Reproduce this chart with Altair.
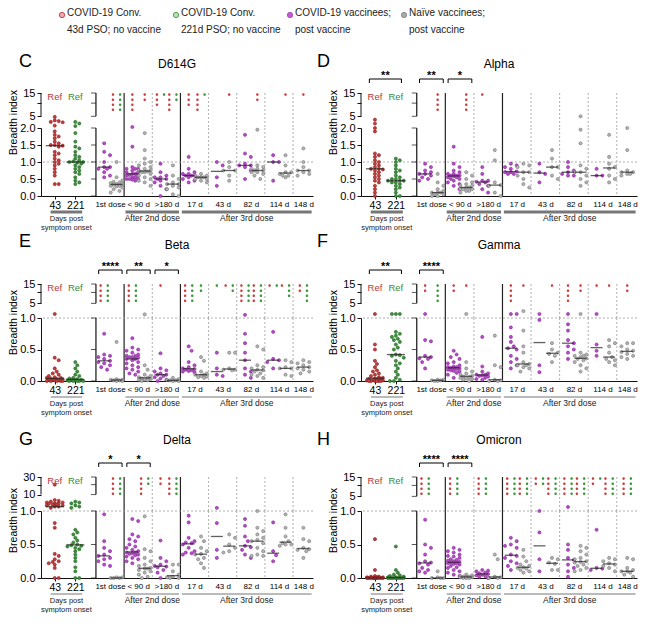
import math
import altair as alt
import pandas as pd

# ---------------- text ----------------
SECTIONS = ["1st dose", "< 90 d", ">180 d", "17 d", "43 d", "82 d", "114 d", "148 d"]
REF_TICKS = ["43", "221"]
LEGEND = ["COVID-19 Conv.\n43d PSO; no vaccine", "COVID-19 Conv.\n221d PSO; no vaccine",
          "COVID-19 vaccinees;\npost vaccine", "Naïve vaccinees;\npost vaccine"]

# ---------------- data (breadth index per column) ----------------
# r43 / r221: convalescent 43 d / 221 d PSO; P<i>: COVID-19 vaccinees, G<i>: naive vaccinees (i = SECTIONS index)
D614G = {
    "r43": [4.8, 3.8, 3.6, 3.4, 3.3, 2.5, 1.9, 1.8, 1.75, 1.7, 1.6, 1.55, 1.5, 1.5, 1.48, 1.45, 1.3, 1.25, 1.2, 1.1, 1.05, 1.0, 0.95, 0.9, 0.8, 0.7, 0.6, 0.35, 0.35],
    "r221": [3.4, 3.0, 2.4, 1.85, 1.6, 1.45, 1.4, 1.3, 1.2, 1.15, 1.1, 1.05, 1.02, 1.0, 1.0, 0.98, 0.95, 0.9, 0.85, 0.8, 0.75, 0.7, 0.65, 0.55, 0.45, 0.4, 0.35],
    "P0": [1.55, 1.3, 1.2, 1.0, 0.85, 0.85, 0.8, 0.8, 0.7, 0.6, 0.55],
    "G0": [1.0, 0.55, 0.45, 0.42, 0.4, 0.38, 0.35, 0.35, 0.33, 0.3, 0.3, 0.28, 0.25, 0.2, 0.15, 0.1],
    "P1": [2.2, 1.45, 0.85, 0.8, 0.8, 0.8, 0.75, 0.7, 0.7, 0.65, 0.62, 0.6, 0.6, 0.55, 0.55, 0.5, 0.5, 0.5, 0.48, 0.45, 0.65],
    "G1": [1.85, 1.35, 1.1, 1.0, 0.95, 0.9, 0.85, 0.8, 0.75, 0.75, 0.72, 0.7, 0.7, 0.65, 0.6, 0.55, 0.5, 0.45, 0.4, 0.3],
    "P2": [0.95, 0.7, 0.6, 0.55, 0.55, 0.5, 0.5, 0.45, 0.4, 0.3, 0.2, 0.0],
    "G2": [0.9, 0.6, 0.5, 0.4, 0.35, 0.35, 0.3, 0.25, 0.2, 0.05, 0.0],
    "P3": [1.15, 0.8, 0.7, 0.65, 0.65, 0.6, 0.6, 0.6, 0.55, 0.5, 0.45, 0.4],
    "G3": [0.65, 0.6, 0.6, 0.55, 0.55, 0.55, 0.5, 0.5, 0.45, 0.4],
    "P4": [1.0, 0.9, 0.55, 0.3],
    "G4": [1.0, 0.85, 0.75, 0.75, 0.6, 0.45],
    "P5": [1.8, 1.25, 1.15, 0.95, 0.9, 0.9, 0.85, 0.75, 0.5],
    "G5": [1.95, 0.9, 0.85, 0.8, 0.8, 0.75, 0.75, 0.7, 0.7, 0.65, 0.6, 0.5],
    "P6": [1.2, 1.0, 1.0, 0.45],
    "G6": [1.2, 0.9, 0.7, 0.7, 0.65, 0.6, 0.6, 0.55],
    "G7": [1.4, 1.0, 0.85, 0.75, 0.75, 0.7, 0.65, 0.6],
}
D614G_SIG = {"G0": (4, 4), "P1": (4, 0), "G1": (2, 0), "P2": (3, 1), "G2": (4, 2), "P3": (3, 0),
             "G3": (4, 1), "G4": (1, 0), "G5": (2, 0), "G6": (1, 0), "G7": (1, 0)}
D614G_BR = []

ALPHA = {
    "r43": [4.0, 3.0, 2.0, 1.9, 1.25, 1.2, 1.15, 1.05, 1.0, 0.95, 0.9, 0.85, 0.8, 0.8, 0.78, 0.75, 0.7, 0.65, 0.6, 0.55, 0.5, 0.45, 0.4, 0.3, 0.2, 0.1, 0.0],
    "r221": [1.1, 1.05, 1.0, 0.9, 0.8, 0.75, 0.7, 0.6, 0.55, 0.5, 0.5, 0.45, 0.45, 0.45, 0.4, 0.4, 0.35, 0.3, 0.25, 0.2, 0.1, 0.0, 0.0],
    "P0": [0.95, 0.85, 0.75, 0.7, 0.65, 0.65, 0.6, 0.55, 0.5, 0.45],
    "G0": [0.65, 0.4, 0.3, 0.2, 0.15, 0.1, 0.1, 0.1, 0.05, 0.05, 0.0, 0.0],
    "P1": [1.45, 0.95, 0.85, 0.75, 0.7, 0.65, 0.65, 0.6, 0.6, 0.6, 0.58, 0.55, 0.55, 0.5, 0.5, 0.45, 0.4, 0.35, 0.3, 0.2],
    "G1": [0.7, 0.6, 0.5, 0.4, 0.35, 0.3, 0.3, 0.25, 0.25, 0.2, 0.2, 0.2, 0.15, 0.15, 0.1],
    "P2": [0.85, 0.65, 0.45, 0.45, 0.42, 0.4, 0.35, 0.3, 0.2, 0.1],
    "G2": [1.35, 1.05, 0.4, 0.32, 0.3, 0.1, 0.0],
    "P3": [0.95, 0.9, 0.85, 0.8, 0.72, 0.7, 0.7, 0.65, 0.65],
    "G3": [0.95, 0.9, 0.85, 0.7, 0.7, 0.6, 0.5, 0.35, 0.25],
    "P4": [0.95, 0.7, 0.65, 0.4],
    "G4": [1.35, 1.1, 0.85, 0.85, 0.6, 0.5],
    "P5": [1.0, 0.85, 0.75, 0.7, 0.65, 0.6, 0.6],
    "G5": [5.0, 1.95, 1.55, 0.9, 0.8, 0.7, 0.7, 0.6, 0.5, 0.4, 0.3],
    "P6": [0.8, 0.6, 0.6],
    "G6": [1.8, 1.15, 0.95, 0.85, 0.8, 0.6, 0.5, 0.4],
    "G7": [2.0, 1.35, 0.75, 0.7, 0.7, 0.65, 0.65, 0.6],
}
ALPHA_SIG = {"G0": (4, 0), "G1": (4, 0), "P2": (1, 0)}
ALPHA_BR = [("r43", "r221", "**"), ("P0", "G0", "**"), ("P1", "G1", "*")]

BETA = {
    "r43": [1.8, 0.37, 0.33, 0.2, 0.15, 0.12, 0.1, 0.08, 0.06, 0.05, 0.05, 0.04, 0.03, 0.03, 0.02, 0.02, 0.01, 0.01, 0.0, 0.0, 0.0, 0.0, 0.0],
    "r221": [0.3, 0.25, 0.2, 0.15, 0.1, 0.08, 0.05, 0.04, 0.03, 0.02, 0.02, 0.01, 0.01, 0.0, 0.0, 0.0, 0.0, 0.0],
    "P0": [0.75, 0.42, 0.4, 0.38, 0.35, 0.32, 0.3, 0.28, 0.25, 0.22, 0.18],
    "G0": [0.62, 0.03, 0.02, 0.02, 0.01, 0.01, 0.0, 0.0],
    "P1": [0.68, 0.53, 0.5, 0.48, 0.45, 0.42, 0.4, 0.4, 0.38, 0.38, 0.37, 0.35, 0.35, 0.33, 0.3, 0.28, 0.25, 0.22, 0.2, 0.18, 0.15, 0.12, 0.1],
    "G1": [1.7, 0.25, 0.18, 0.1, 0.08, 0.06, 0.05, 0.04, 0.03, 0.02, 0.02, 0.01, 0.0],
    "P2": [0.44, 0.2, 0.17, 0.15, 0.12, 0.1, 0.1, 0.08, 0.06, 0.04, 0.02, 0.0],
    "G2": [0.05, 0.03, 0.02, 0.01, 0.01, 0.0, 0.0],
    "P3": [0.55, 0.48, 0.3, 0.25, 0.22, 0.2, 0.19, 0.18, 0.17, 0.16, 0.15, 0.14],
    "G3": [0.38, 0.32, 0.15, 0.12, 0.1, 0.1, 0.08, 0.07, 0.06, 0.05],
    "P4": [0.45, 0.2, 0.1, 0.08],
    "G4": [0.45, 0.45, 0.2, 0.18, 0.18, 0.17],
    "P5": [1.6, 0.75, 0.6, 0.45, 0.33, 0.2, 0.15, 0.1, 0.05],
    "G5": [0.55, 0.5, 0.25, 0.22, 0.2, 0.18, 0.17, 0.15, 0.12, 0.1, 0.08, 0.05],
    "P6": [0.78, 0.35, 0.33, 0.3, 0.2],
    "G6": [0.33, 0.3, 0.22, 0.2, 0.2, 0.1, 0.08],
    "G7": [0.33, 0.3, 0.28, 0.25, 0.22, 0.2, 0.18, 0.15, 0.12],
}
BETA_SIG = {"P0": (4, 4), "P1": (4, 4), "P2": (1, 0), "P3": (4, 4), "G3": (0, 2), "P4": (0, 1),
            "G4": (1, 2), "P5": (4, 4), "G5": (4, 4), "P6": (1, 1), "G6": (1, 3), "G7": (2, 4)}
BETA_BR = [("P0", "G0", "****"), ("P1", "G1", "**"), ("P2", "G2", "*")]

GAMMA = {
    "r43": [1.8, 0.58, 0.5, 0.32, 0.27, 0.22, 0.17, 0.15, 0.12, 0.1, 0.08, 0.06, 0.05, 0.04, 0.03, 0.03, 0.02, 0.02, 0.01, 0.01, 0.0, 0.0, 0.0, 0.0, 0.0, 0.0],
    "r221": [1.8, 1.8, 1.8, 0.78, 0.75, 0.72, 0.7, 0.67, 0.65, 0.62, 0.58, 0.53, 0.5, 0.41, 0.42, 0.4, 0.37, 0.32, 0.28, 0.25, 0.2, 0.15, 0.1, 0.05, 0.02, 0.0, 0.0],
    "P0": [1.8, 0.65, 0.63, 0.4, 0.38, 0.36, 0.35, 0.3, 0.2],
    "G0": [0.02, 0.01, 0.0, 0.0, 0.01, 0.02],
    "P1": [0.48, 0.42, 0.38, 0.35, 0.3, 0.28, 0.25, 0.23, 0.22, 0.22, 0.21, 0.2, 0.2, 0.19, 0.18, 0.17, 0.16, 0.15, 0.13, 0.1, 0.05],
    "G1": [1.8, 0.3, 0.2, 0.15, 0.12, 0.1, 0.08, 0.07, 0.06, 0.05, 0.04, 0.03, 0.02, 0.0],
    "P2": [0.7, 0.23, 0.15, 0.12, 0.1, 0.1, 0.09, 0.08, 0.07, 0.05, 0.03, 0.02],
    "G2": [0.72, 0.25, 0.22, 0.02, 0.01, 0.0, 0.0],
    "P3": [1.8, 1.8, 0.85, 0.7, 0.62, 0.55, 0.52, 0.5, 0.4, 0.35, 0.3, 0.25, 0.2],
    "G3": [2.5, 0.8, 0.55, 0.45, 0.3, 0.27, 0.25, 0.25, 0.22, 0.2, 0.15],
    "P4": [1.8, 0.97, 0.25, 0.14],
    "G4": [0.6, 0.5, 0.45, 0.43, 0.4, 0.3],
    "P5": [1.8, 0.9, 0.8, 0.65, 0.6, 0.55, 0.5, 0.45, 0.35],
    "G5": [1.8, 0.45, 0.42, 0.4, 0.4, 0.38, 0.36, 0.35, 0.33, 0.3, 0.25, 0.2, 0.15],
    "P6": [1.8, 0.58, 0.48, 0.4],
    "G6": [0.65, 0.6, 0.55, 0.45, 0.38, 0.35, 0.33, 0.3, 0.25],
    "G7": [0.6, 0.6, 0.55, 0.5, 0.48, 0.46, 0.43, 0.4, 0.38, 0.35],
}
GAMMA_SIG = {"P0": (2, 0), "G0": (0, 4), "P1": (2, 0), "G1": (1, 0), "P3": (4, 0), "G3": (1, 0),
             "G4": (1, 0), "P5": (4, 0), "G5": (2, 0), "P6": (1, 0), "G6": (1, 0), "G7": (2, 0)}
GAMMA_BR = [("r43", "r221", "**"), ("P0", "G0", "****")]

DELTA = {
    "r43": [20, 6, 5.5, 5, 4.5, 4.5, 4, 4, 3.8, 3.5, 3.5, 3, 3, 2.5, 2.5, 2, 0.82, 0.75, 0.36, 0.33, 0.28, 0.25, 0.24, 0.22, 0.2, 0.15, 0.0, 0.0],
    "r221": [5, 4.5, 4, 3, 2.5, 2, 0.72, 0.68, 0.65, 0.6, 0.56, 0.53, 0.5, 0.49, 0.48, 0.47, 0.45, 0.43, 0.4, 0.35, 0.3, 0.25, 0.16, 0.1, 0.0, 0.0],
    "P0": [0.95, 0.55, 0.45, 0.4, 0.35, 0.33, 0.3, 0.28, 0.25, 0.2, 0.18],
    "G0": [0.01, 0.0, 0.0, 0.0, 0.01],
    "P1": [0.88, 0.85, 0.65, 0.62, 0.58, 0.55, 0.5, 0.47, 0.45, 0.42, 0.4, 0.38, 0.38, 0.37, 0.36, 0.35, 0.34, 0.32, 0.3, 0.28, 0.25, 0.22],
    "G1": [0.92, 0.43, 0.4, 0.3, 0.25, 0.2, 0.18, 0.15, 0.14, 0.14, 0.12, 0.1, 0.08, 0.05, 0.02, 0.0],
    "P2": [0.56, 0.3, 0.25, 0.2, 0.18, 0.17, 0.16, 0.12, 0.08, 0.0],
    "G2": [0.2, 0.2, 0.1, 0.05, 0.02, 0.01, 0.0, 0.0],
    "P3": [0.93, 0.83, 0.6, 0.55, 0.53, 0.52, 0.5, 0.45, 0.4, 0.38, 0.37, 0.35],
    "G3": [0.62, 0.55, 0.45, 0.4, 0.36, 0.35, 0.3, 0.28, 0.22, 0.15],
    "P4": [2.0, 0.82, 0.42, 0.3],
    "G4": [0.65, 0.6, 0.5, 0.45, 0.4, 0.38],
    "P5": [0.88, 0.78, 0.62, 0.55, 0.48, 0.46, 0.42, 0.35, 0.3],
    "G5": [1.0, 0.75, 0.7, 0.65, 0.6, 0.57, 0.55, 0.52, 0.45, 0.4, 0.35, 0.33, 0.33],
    "P6": [0.83, 0.4, 0.34, 0.25],
    "G6": [0.95, 0.75, 0.62, 0.55, 0.52, 0.5, 0.5, 0.48],
    "G7": [0.75, 0.58, 0.55, 0.45, 0.43, 0.42, 0.4, 0.3],
}
DELTA_SIG = {"G0": (4, 4), "G1": (4, 2), "P2": (2, 0), "G2": (4, 4)}
DELTA_BR = [("P0", "G0", "*"), ("P1", "G1", "*")]

OMICRON = {
    "r43": [0.58, 0.12, 0.03, 0.02, 0.02, 0.01, 0.01, 0.01, 0.0, 0.0, 0.0, 0.0, 0.0, 0.0, 0.0, 0.0, 0.0, 0.0, 0.0, 0.0, 0.0, 0.0],
    "r221": [0.47, 0.12, 0.08, 0.05, 0.04, 0.03, 0.02, 0.01, 0.01, 0.0, 0.0, 0.0, 0.0, 0.0, 0.0, 0.0, 0.0, 0.0],
    "P0": [0.87, 0.5, 0.45, 0.35, 0.25, 0.23, 0.22, 0.2, 0.15, 0.12, 0.1, 0.08],
    "G0": [0.1, 0.01, 0.0, 0.0, 0.0],
    "P1": [0.45, 0.42, 0.4, 0.38, 0.35, 0.33, 0.32, 0.3, 0.28, 0.27, 0.26, 0.25, 0.24, 0.23, 0.22, 0.22, 0.21, 0.2, 0.18, 0.16, 0.15, 0.12, 0.1, 0.08, 0.05, 0.03],
    "G1": [0.05, 0.04, 0.03, 0.02, 0.02, 0.02, 0.01, 0.01, 0.01, 0.0, 0.0, 0.0],
    "P2": [0.12, 0.11, 0.1, 0.08, 0.07, 0.06, 0.05, 0.04, 0.03, 0.02, 0.0],
    "G2": [0.35, 0.28, 0.02, 0.01, 0.0, 0.0],
    "P3": [0.6, 0.55, 0.5, 0.48, 0.45, 0.35, 0.33, 0.3, 0.25, 0.22, 0.18, 0.12],
    "G3": [0.42, 0.32, 0.25, 0.2, 0.18, 0.16, 0.15, 0.14, 0.12, 0.1, 0.08],
    "P4": [1.0, 0.68, 0.28, 0.1],
    "G4": [0.3, 0.28, 0.23, 0.21, 0.12, 0.12],
    "P5": [1.8, 0.5, 0.42, 0.3, 0.27, 0.2, 0.15, 0.1, 0.02],
    "G5": [0.48, 0.45, 0.4, 0.35, 0.3, 0.28, 0.25, 0.24, 0.23, 0.2, 0.18, 0.15, 0.12, 0.1],
    "P6": [0.72, 0.15, 0.14, 0.12],
    "G6": [0.3, 0.28, 0.25, 0.22, 0.2, 0.18, 0.15, 0.1],
    "G7": [0.3, 0.28, 0.15, 0.12, 0.1, 0.1, 0.08, 0.05, 0.02],
}
OMICRON_SIG = {"P0": (4, 4), "P1": (4, 4), "P2": (4, 4), "P3": (4, 4), "G3": (4, 4), "P4": (2, 2),
               "G4": (4, 4), "P5": (4, 4), "G5": (4, 4), "P6": (2, 1), "G6": (4, 4), "G7": (4, 4)}
OMICRON_BR = [("P0", "G0", "****"), ("P1", "G1", "****")]

# ---------------- style / layout ----------------
FONT = "Liberation Sans"
GROUPS = ["conv43", "conv221", "vacc", "naive"]
FILLS = ["#c23f3f", "#3f903f", "#b64dc6", "#b4b4b4"]
STROKES = ["#8d1c1c", "#256a25", "#86289a", "#777777"]
SIG_RED, SIG_GREEN = "#d03e3e", "#3a9a3a"
BASE, SW, XMAX = 4.0, 2.05, 19.8
BR_Y = -14
SIG_SIZE = 324  # symbol box 18 px


def dot_stack(n):
    # n small dots stacked downward from the symbol anchor (symbol units: half-box = 1)
    r = 0.14
    parts = []
    for i in range(n):
        cy = 0.18 + 0.56 * i
        parts.append(f"M{-r:.2f},{cy:.2f}a{r:.2f},{r:.2f} 0 1,0 {2*r:.2f},0a{r:.2f},{r:.2f} 0 1,0 {-2*r:.2f},0Z")
    return "".join(parts)


CFG_CD = dict(lmax=2.0, udom=(2, 15), useg=5, uticks=[5, 10, 15], lticks=[0, 0.5, 1.0, 1.5, 2.0],
              h=(35, 68), ty=-6, title_y=-29, letter_y=-31, ulw=3)
CFG_EF = dict(lmax=1.0, udom=(1, 15), useg=5, uticks=[5, 10, 15], lticks=[0, 0.5, 1.0],
              h=(34, 63), ty=4, title_y=-39, letter_y=-42, ulw=1)
CFG_G = dict(lmax=1.0, udom=(1, 30), useg=10, uticks=[10, 20, 30], lticks=[0, 0.5, 1.0],
             h=(34, 67), ty=9, title_y=-37, letter_y=-37, ulw=1)
CFG_H = dict(CFG_G, udom=(1, 15), useg=5, uticks=[5, 10, 15])


def xpos(key):
    if key == "r43":
        return 1.0
    if key == "r221":
        return 2.5
    s = int(key[1:])
    if s == 7:
        return BASE + 7 * SW + 0.75
    return BASE + s * SW + (0.6 if key[0] == "P" else 1.5)


def group_of(key):
    if key == "r43":
        return "conv43"
    if key == "r221":
        return "conv221"
    return "vacc" if key[0] == "P" else "naive"


def beeswarm(vals, ypix, diam, maxoff):
    order = sorted(range(len(vals)), key=lambda i: ypix(vals[i]))
    step = diam * 0.55
    cands = [0.0]
    k = 1
    while k * step <= maxoff:
        cands += [k * step, -k * step]
        k += 1
    placed, offs = [], [0.0] * len(vals)
    for i in order:
        y = ypix(vals[i])
        best, bestd = 0.0, -1.0
        for c in cands:
            d = min([math.hypot(c - px, y - py) for px, py in placed] or [1e9])
            if d >= diam * 0.9:
                best = c
                break
            if d > bestd:
                best, bestd = c, d
        offs[i] = best
        placed.append((best, y))
    return offs


def panel(title, letter, data, sig, brackets, cfg, W, letter_x):
    LMAX = cfg["lmax"]
    U0, U1 = cfg["udom"]
    UH, LH = cfg["h"]
    ppu = W / XMAX

    def ypix(v):
        if v <= LMAX:
            return UH + (LMAX - v) / LMAX * LH
        return UH * (1 - (math.sqrt(v) - math.sqrt(U0)) / (math.sqrt(U1) - math.sqrt(U0)))

    rows = []
    for key, vals in data.items():
        isref = key.startswith("r")
        offs = beeswarm(vals, ypix, 3.6 if isref else 5.3, 9.0 if isref else 8.0)
        for v, o in zip(vals, offs):
            rows.append({"key": key, "value": v, "x": xpos(key) + o / ppu, "pos": xpos(key),
                         "grp": group_of(key), "kind": "ref" if isref else "vac"})
    df = pd.DataFrame(rows)

    xs = alt.Scale(domain=[0, XMAX], nice=False, zero=False)
    ysu = alt.Scale(type="sqrt", domain=[U0, U1], nice=False, zero=False)
    ysl = alt.Scale(domain=[0, LMAX], nice=False, zero=False)

    # ---- axes: every layer of a view carries the same axis definition ----
    tick_vals = [xpos("r43"), xpos("r221")] + [BASE + s * SW + SW / 2 for s in range(7)] + [xpos("G7")]
    labels = REF_TICKS + SECTIONS
    expr = "''"
    for v, lab in reversed(list(zip(tick_vals, labels))):
        expr = f"abs(datum.value - {v:.4f}) < 0.01 ? '{lab}' : {expr}"
    x_axis = alt.Axis(values=tick_vals, labelExpr=expr, title=None, grid=False, domainColor="#111",
                      tickColor="#111", tickSize=3, labelPadding=1, labelOverlap=False,
                      labelFlush=False, labelBound=False, labelFont=FONT, labelColor="black",
                      labelFontSize={"condition": {"test": "datum.value < 3.5", "value": 10.5}, "value": 8},
                      tickOpacity={"condition": {"test": "datum.value < 3.5", "value": 1}, "value": 0})
    y_axis = alt.Axis(values=cfg["lticks"], format=".1f", title="Breadth index", titleX=-28,
                      titleY=cfg["ty"], titleAngle=270, titleAlign="center", titleBaseline="middle",
                      titleFont=FONT, titleFontSize=10.5, titleFontWeight="normal", titleColor="black",
                      labelFont=FONT, labelFontSize=11, labelColor="black", grid=False,
                      domainColor="#111", tickColor="#111", tickSize=4, labelPadding=2)
    up_axis = alt.Axis(values=cfg["uticks"], format="d", title=None, domain=False, grid=False,
                       tickSize=4, tickColor="#111", labelPadding=2, labelFont=FONT,
                       labelFontSize=11, labelColor="black")

    def make_enc(xaxis, ys, yaxis):
        def X(f):
            return alt.X(f, scale=xs, axis=xaxis)

        def Y(f):
            return alt.Y(f, scale=ys, axis=yaxis)
        return X, Y

    solid = pd.DataFrame({"x": [BASE + SW, BASE + 3 * SW]})
    dashed = pd.DataFrame({"x": [BASE + 2 * SW] + [BASE + k * SW for k in range(4, 8)]})

    def seps(X):
        a = alt.Chart(solid).mark_rule(color="#222", strokeWidth=1.2).encode(x=X("x:Q"))
        b = alt.Chart(dashed).mark_rule(color="#9a9a9a", strokeWidth=0.8, strokeDash=[2, 2]).encode(x=X("x:Q"))
        return [a, b]

    def pts(X, Y, cond):
        return alt.Chart(df).transform_filter(cond).mark_circle(opacity=1, strokeWidth=0.6).encode(
            x=X("x:Q"), y=Y("value:Q"),
            fill=alt.Fill("grp:N", scale=alt.Scale(domain=GROUPS, range=FILLS), legend=None),
            stroke=alt.Stroke("grp:N", scale=alt.Scale(domain=GROUPS, range=STROKES), legend=None),
            size=alt.Size("grp:N", scale=alt.Scale(domain=GROUPS, range=[10, 10, 22, 22]), legend=None),
        )

    def medians(X, Y, cond):
        out = []
        for kind, ln in (("ref", 18), ("vac", 12)):
            out.append(alt.Chart(df).transform_aggregate(
                med="median(value)", groupby=["key", "pos", "kind"]
            ).transform_filter(cond).transform_filter(f"datum.kind == '{kind}'").mark_tick(
                orient="horizontal", size=ln, thickness=1.3, color="#1e1e1e"
            ).encode(x=X("pos:Q"), y=Y("med:Q")))
        return out

    def axis2(X, Y, lo, hi, ticks):
        seg = pd.DataFrame({"x": [BASE], "y1": [lo], "y2": [hi]})
        tk = pd.DataFrame({"x": [BASE] * len(ticks), "v": ticks})
        r = alt.Chart(seg).mark_rule(color="#111", strokeWidth=1.2).encode(
            x=X("x:Q"), y=Y("y1:Q"), y2="y2:Q")
        t = alt.Chart(tk).mark_tick(orient="horizontal", size=5, thickness=1, xOffset=-2.5, color="#111").encode(
            x=X("x:Q"), y=Y("v:Q"))
        return [r, t]

    # ---------- upper segment ----------
    X, Y = make_enc(None, ysu, up_axis)
    left_seg = pd.DataFrame({"x": [0.0], "y1": [cfg["useg"]], "y2": [U1]})
    up_layers = seps(X)
    up_layers.append(alt.Chart(left_seg).mark_rule(color="#111", strokeWidth=1).encode(
        x=X("x:Q"), y=Y("y1:Q"), y2="y2:Q"))
    up_layers += axis2(X, Y, cfg["useg"], U1, cfg["uticks"])
    up_layers.append(pts(X, Y, f"datum.value > {LMAX}"))
    up_layers += medians(X, Y, f"datum.med > {LMAX}")

    srows = []
    for key, (nr, ng) in sig.items():
        p = xpos(key)
        dx = 0.26 if (nr and ng) else 0.0
        if nr:
            srows.append({"x": p - dx, "yv": U1, "shape": dot_stack(nr), "col": SIG_RED})
        if ng:
            srows.append({"x": p + dx, "yv": U1, "shape": dot_stack(ng), "col": SIG_GREEN})
    up_layers.append(alt.Chart(pd.DataFrame(srows)).mark_point(
        filled=True, opacity=1, size=SIG_SIZE, strokeWidth=0
    ).encode(x=X("x:Q"), y=Y("yv:Q"), shape=alt.Shape("shape:N", scale=None),
             color=alt.Color("col:N", scale=None)))

    refs = pd.DataFrame({"x": [xpos("r43"), xpos("r221")], "yv": [U1, U1], "txt": ["Ref", "Ref"],
                         "col": ["#b33a3a", "#3a8a3a"]})
    up_layers.append(alt.Chart(refs).mark_text(fontSize=9.5, baseline="top", dy=-1, font=FONT).encode(
        x=X("x:Q"), y=Y("yv:Q"), text="txt:N", color=alt.Color("col:N", scale=None)))

    up_layers.append(alt.Chart(pd.DataFrame({"t": [title]})).mark_text(
        fontSize=12, font=FONT, fill="black").encode(
        x=alt.value(W / 2), y=alt.value(cfg["title_y"]), text="t:N"))
    up_layers.append(alt.Chart(pd.DataFrame({"t": [letter]})).mark_text(
        fontSize=18, font=FONT, fill="black", align="left").encode(
        x=alt.value(letter_x), y=alt.value(cfg["letter_y"]), text="t:N"))

    if brackets:
        br = pd.DataFrame([{"x1": xpos(a) - 0.4, "x2": xpos(b) + 0.4,
                            "xm": (xpos(a) + xpos(b)) / 2, "stars": s} for a, b, s in brackets])
        legs = pd.DataFrame({"x": list(br["x1"]) + list(br["x2"])})
        up_layers.append(alt.Chart(br).mark_rule(color="black", strokeWidth=1).encode(
            x=X("x1:Q"), x2="x2:Q", y=alt.value(BR_Y)))
        up_layers.append(alt.Chart(legs).mark_rule(color="black", strokeWidth=1).encode(
            x=X("x:Q"), y=alt.value(BR_Y), y2=alt.value(BR_Y + 4)))
        up_layers.append(alt.Chart(br).mark_text(fontSize=11, fontWeight="bold", font=FONT,
                                                 fill="black", baseline="middle").encode(
            x=X("xm:Q"), y=alt.value(BR_Y - 3), text="stars:N"))

    upper = alt.layer(*up_layers).properties(width=W, height=UH)

    # ---------- lower segment ----------
    X, Y = make_enc(x_axis, ysl, y_axis)
    lo_layers = seps(X)
    lo_layers.append(alt.Chart(pd.DataFrame({"v": [1.0]})).mark_rule(
        color="#9a9a9a", strokeWidth=0.8, strokeDash=[2, 2]).encode(y=Y("v:Q")))
    lo_layers += axis2(X, Y, 0, LMAX, cfg["lticks"])
    lo_layers.append(pts(X, Y, f"datum.value <= {LMAX}"))
    lo_layers += medians(X, Y, f"datum.med <= {LMAX}")

    under = pd.DataFrame({"x1": [0.7, BASE + SW + 0.1, BASE + 3 * SW + 0.1],
                          "x2": [3.0, BASE + 3 * SW - 0.1, XMAX - 0.1]})
    lo_layers.append(alt.Chart(under).mark_rule(color="#777", strokeWidth=cfg["ulw"]).encode(
        x=X("x1:Q"), x2="x2:Q", y=alt.value(LH + 16)))
    doses = pd.DataFrame({"x": [BASE + 2 * SW, (BASE + 3 * SW + XMAX) / 2],
                          "t": ["After 2nd dose", "After 3rd dose"]})
    lo_layers.append(alt.Chart(doses).mark_text(fontSize=8.5, font=FONT, fill="#222").encode(
        x=X("x:Q"), y=alt.value(LH + 22), text="t:N"))
    days = pd.DataFrame({"x": [1.85], "t": ["Days post\nsymptom onset"]})
    lo_layers.append(alt.Chart(days).mark_text(fontSize=7.5, font=FONT, fill="#222", lineBreak="\n",
                                               lineHeight=8.5, baseline="top").encode(
        x=X("x:Q"), y=alt.value(LH + 19), text="t:N"))

    lower = alt.layer(*lo_layers).properties(width=W, height=LH)
    return alt.vconcat(upper, lower, spacing=0, bounds="flush")


WL, WR = 272, 276
pC = panel("D614G", "C", D614G, D614G_SIG, D614G_BR, CFG_CD, WL, -22)
pD = panel("Alpha", "D", ALPHA, ALPHA_SIG, ALPHA_BR, CFG_CD, WR, -44)
pE = panel("Beta", "E", BETA, BETA_SIG, BETA_BR, CFG_EF, WL, -22)
pF = panel("Gamma", "F", GAMMA, GAMMA_SIG, GAMMA_BR, CFG_EF, WR, -44)
pG = panel("Delta", "G", DELTA, DELTA_SIG, DELTA_BR, CFG_G, WL, -22)
pH = panel("Omicron", "H", OMICRON, OMICRON_SIG, OMICRON_BR, CFG_H, WR, -44)

row1 = alt.hconcat(pC, pD, spacing=3)
row2 = alt.hconcat(pE, pF, spacing=3)
row3 = alt.hconcat(pG, pH, spacing=3)

# ---------------- legend ----------------
leg_df = pd.DataFrame({"i": [0, 1, 2, 3], "t": LEGEND,
                       "f": ["#f2aaaa", "#b9e2b2", "#c35bd3", "#a9a9a9"],
                       "s": ["#c04040", "#4b9b4b", "#a94bba", "#8a8a8a"]})
lx = alt.X("i:O", axis=None, scale=alt.Scale(paddingInner=0, paddingOuter=0))
leg_pts = alt.Chart(leg_df).mark_circle(opacity=1, strokeWidth=0.9, size=28, xOffset=-36).encode(
    x=lx, y=alt.value(7), fill=alt.Fill("f:N", scale=None), stroke=alt.Stroke("s:N", scale=None))
leg_txt = alt.Chart(leg_df).mark_text(align="left", baseline="top", dx=-31, lineBreak="\n",
                                      lineHeight=17, fontSize=10, font=FONT, fill="#222").encode(
    x=lx, y=alt.value(0), text="t:N")
legend = alt.layer(leg_pts, leg_txt).properties(width=456, height=40)

chart = alt.vconcat(
    legend,
    alt.vconcat(alt.vconcat(row1, row2, spacing=2), row3, spacing=15),
    spacing=5,
).properties(padding=0).configure(font=FONT).configure_view(strokeWidth=0)

chart.save("out.html", embed_options={"renderer": "svg", "actions": False})
